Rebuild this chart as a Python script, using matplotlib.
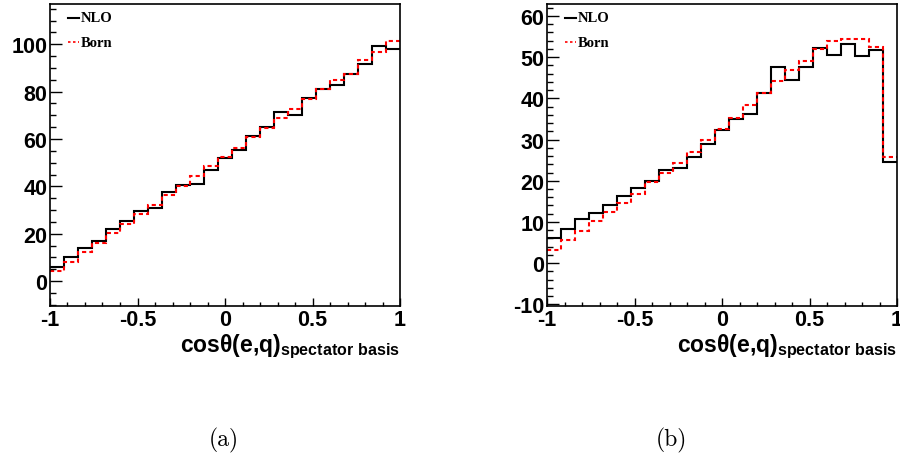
import numpy as np
import matplotlib
matplotlib.use("Agg")
import matplotlib.pyplot as plt
from matplotlib.ticker import MultipleLocator

plt.rcParams['axes.unicode_minus'] = False
plt.rcParams['mathtext.fontset'] = 'custom'
plt.rcParams['mathtext.bf'] = 'Liberation Sans:bold'
plt.rcParams['mathtext.rm'] = 'Liberation Sans'

# 25 bins of cos(theta) from -1 to 1
edges = np.linspace(-1, 1, 26)

# panel (a)
nlo_a = [5.9, 10.0, 13.9, 16.9, 21.9, 25.4, 29.5, 30.8, 37.8, 40.5,
         41.2, 47.0, 51.9, 55.5, 61.2, 65.2, 71.3, 70.2, 77.2, 81.1,
         82.7, 87.6, 91.8, 99.4, 98.1]
born_a = [4.1, 8.1, 12.1, 16.3, 20.3, 24.2, 28.4, 32.3, 36.4, 40.3,
          44.4, 48.4, 52.4, 56.2, 60.9, 64.7, 68.8, 72.7, 76.8, 81.0,
          84.9, 87.6, 93.2, 96.9, 101.4]

# panel (b)
nlo_b = [6.2, 8.3, 10.6, 12.2, 14.1, 16.3, 18.2, 19.9, 22.6, 23.1,
         25.8, 28.9, 32.2, 35.1, 36.2, 41.4, 47.6, 44.5, 47.6, 52.3,
         50.5, 53.3, 50.3, 51.7, 24.6]
born_b = [3.3, 5.7, 7.7, 10.2, 12.3, 14.6, 16.9, 19.6, 21.8, 24.4,
          27.0, 29.9, 32.5, 35.3, 38.3, 41.3, 44.1, 47.0, 49.1, 52.0,
          53.8, 54.4, 54.4, 52.4, 25.8]

panels = [
    dict(nlo=nlo_a, born=born_a, ylim=(-10.5, 117), major=20, minor=5,
         rect=[50 / 900, 1 - 307 / 460, 350 / 900, 302 / 460], tag='(a)', tagx=224 / 900),
    dict(nlo=nlo_b, born=born_b, ylim=(-10.4, 62.9), major=10, minor=2,
         rect=[547 / 900, 1 - 307 / 460, 350 / 900, 302 / 460], tag='(b)', tagx=671 / 900),
]

fig = plt.figure(figsize=(9, 4.6), dpi=100)

for p in panels:
    ax = fig.add_axes(p['rect'])
    ax.stairs(p['nlo'], edges, baseline=None, color='black', lw=1.5)
    ax.stairs(p['born'], edges, baseline=None, color='red', lw=1.5,
              linestyle=(0, (2, 1.5)))
    ax.set_xlim(-1, 1)
    ax.set_ylim(*p['ylim'])

    ax.xaxis.set_major_locator(MultipleLocator(0.5))
    ax.xaxis.set_minor_locator(MultipleLocator(0.1))
    ax.yaxis.set_major_locator(MultipleLocator(p['major']))
    ax.yaxis.set_minor_locator(MultipleLocator(p['minor']))
    ax.xaxis.set_major_formatter(plt.FuncFormatter(lambda v, _: f'{v:g}'))
    ax.yaxis.set_major_formatter(plt.FuncFormatter(lambda v, _: f'{v:g}'))

    ax.tick_params(axis='x', which='major', direction='in', length=5.5, width=1, pad=2.5)
    ax.tick_params(axis='x', which='minor', direction='in', length=2.6, width=1)
    ax.tick_params(axis='y', which='major', direction='in', length=8.5, width=1, pad=2)
    ax.tick_params(axis='y', which='minor', direction='in', length=4.3, width=1)
    for lab in ax.get_xticklabels() + ax.get_yticklabels():
        lab.set_fontfamily('Liberation Sans')
        lab.set_fontweight('bold')
        lab.set_fontsize(15.5)
    for s in ax.spines.values():
        s.set_linewidth(1.2)

    ax.text(1.0, -0.148, r'$\mathbf{cos\theta(e{,}q)_{spectator\ basis}}$',
            transform=ax.transAxes, ha='right', va='baseline', fontsize=16.5)

    # ROOT style legend
    ax.plot([0.05, 0.084], [0.954, 0.954], transform=ax.transAxes, color='black', lw=1.5)
    ax.plot([0.05, 0.084], [0.874, 0.874], transform=ax.transAxes, color='red', lw=1.2,
            linestyle=(0, (1.5, 1.5)))
    ax.text(0.089, 0.954, 'NLO', transform=ax.transAxes, ha='left', va='center',
            fontfamily='Liberation Serif', fontweight='bold', fontsize=10.5)
    ax.text(0.089, 0.874, 'Born', transform=ax.transAxes, ha='left', va='center',
            fontfamily='Liberation Serif', fontweight='bold', fontsize=10.5)

    fig.text(p['tagx'], 1 - 440 / 460, p['tag'], ha='center', va='center',
             fontfamily='cmr10', fontsize=17)

fig.savefig('out.png', dpi=100)
